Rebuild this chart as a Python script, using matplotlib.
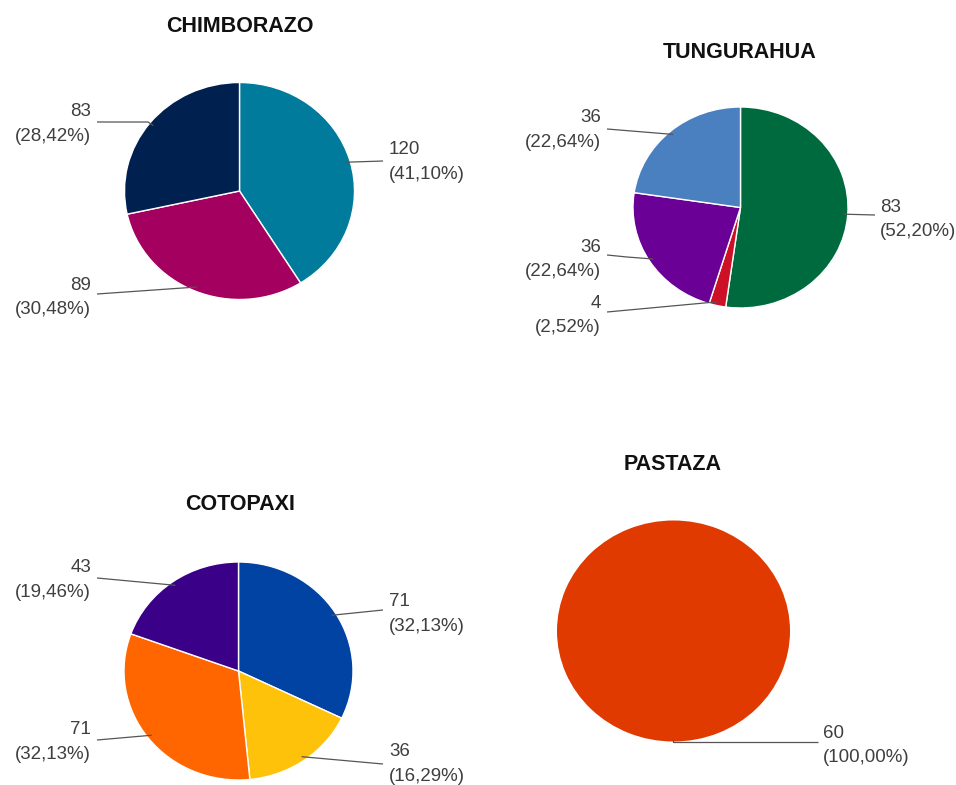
import numpy as np
import matplotlib
matplotlib.use("Agg")
import matplotlib.pyplot as plt

W, H = 956, 785

# ---- data ----
titles = ["CHIMBORAZO", "TUNGURAHUA", "COTOPAXI", "PASTAZA"]
chimborazo_values = [120, 89, 83]
tungurahua_values = [83, 4, 36, 36]
cotopaxi_values = [71, 36, 71, 43]
pastaza_values = [60]
values_list = [chimborazo_values, tungurahua_values, cotopaxi_values, pastaza_values]

chimborazo_colors = ["#007b9c", "#a4005f", "#00204f"]
tungurahua_colors = ["#006a3f", "#cc1126", "#6a0096", "#4a7fc0"]
cotopaxi_colors = ["#0043a3", "#ffc20a", "#ff6600", "#3a0088"]
pastaza_colors = ["#e03a00"]
colors_list = [chimborazo_colors, tungurahua_colors, cotopaxi_colors, pastaza_colors]

# ---- layout (pixels) ----
pie_boxes = [  # cx, cy, rx, ry
    (239.5, 191, 115, 108.5),
    (740.5, 207.5, 107.5, 100.5),
    (238.5, 671, 114.5, 109),
    (673.5, 631, 116.5, 110.5),
]
title_pos = [(240, 26), (740, 52), (240, 505), (673, 465)]

# per-slice label layout: (text x, text y of value line, ha, elbow points list)
label_layout = [
    [(389, 150, "left", [(383, 161)]),
     (91, 285, "right", [(97, 294)]),
     (91, 112, "right", [(148, 122), (97, 122)])],
    [(880, 207, "left", [(875, 215)]),
     (601, 303, "right", [(607, 312)]),
     (601, 247, "right", [(627, 257), (607, 255)]),
     (601, 118, "right", [(607, 129)])],
    [(389, 602, "left", [(383, 610)]),
     (389, 752, "left", [(383, 764)]),
     (91, 730, "right", [(97, 740)]),
     (91, 568, "right", [(97, 578)])],
    [(823, 733, "left", [(673, 742), (818, 742)])],
]

fig = plt.figure(figsize=(W / 100, H / 100), dpi=100)
fig.patch.set_facecolor("white")

overlay = fig.add_axes([0, 0, 1, 1], zorder=5)
overlay.set_xlim(0, W)
overlay.set_ylim(H, 0)
overlay.axis("off")
overlay.patch.set_alpha(0)

FONT = "Liberation Sans"
txt_color = "#3f3f3f"

for i, (vals, cols) in enumerate(zip(values_list, colors_list)):
    cx, cy, rx, ry = pie_boxes[i]
    ax = fig.add_axes([(cx - rx) / W, 1 - (cy + ry) / H, 2 * rx / W, 2 * ry / H])
    wedges, _ = ax.pie(vals, colors=cols, startangle=90, counterclock=False,
                       radius=1.0,
                       wedgeprops=dict(edgecolor="white", linewidth=1.0 if len(vals) > 1 else 0))
    ax.set_aspect("auto")
    ax.set_xlim(-1, 1)
    ax.set_ylim(-1, 1)
    ax.axis("off")

    tx, ty = title_pos[i]
    overlay.text(tx, ty, titles[i], ha="center", va="center", fontsize=15.5,
                 fontweight="bold", family=FONT, color="#111111")

    total = sum(vals)
    for w, v, lay in zip(wedges, vals, label_layout[i]):
        if len(vals) == 1:
            ang = -90.0
        else:
            ang = (w.theta1 + w.theta2) / 2.0
        r_frac = 0.96 if len(vals) > 1 else 0.99
        ax_x = cx + rx * r_frac * np.cos(np.radians(ang))
        ax_y = cy - ry * r_frac * np.sin(np.radians(ang))
        lx, ly, ha, pts = lay
        if len(vals) == 1:
            xs = [pts[0][0], pts[0][0], pts[1][0]]
            ys = [ax_y, pts[0][1], pts[1][1]]
        else:
            xs = [ax_x] + [p[0] for p in pts]
            ys = [ax_y] + [p[1] for p in pts]
        overlay.plot(xs, ys, color="#555555", lw=0.9, solid_capstyle="butt")
        pct = f"{100.0 * v / total:.2f}".replace(".", ",")
        overlay.text(lx, ly, f"{v}", ha=ha, va="center", fontsize=13.5,
                     family=FONT, color=txt_color)
        overlay.text(lx, ly + 24.5, f"({pct}%)", ha=ha, va="center", fontsize=13.5,
                     family=FONT, color=txt_color)

fig.savefig("out.png", dpi=100, facecolor="white")
